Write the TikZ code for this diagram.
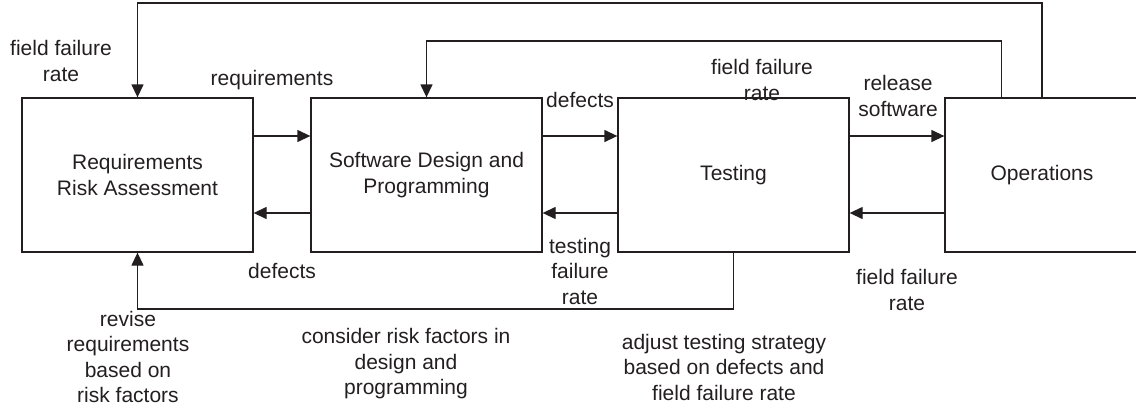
\documentclass[tikz,border=0pt]{standalone}
\usepackage{fontspec}
\setmainfont{Liberation Sans}
\usetikzlibrary{arrows.meta,calc}
\definecolor{ink}{HTML}{231F20}
\begin{document}
\begin{tikzpicture}[x=1pt,y=-1pt,
  box/.style={draw=ink, line width=1.3pt, rectangle, minimum height=154pt, inner sep=0pt, align=center, text=ink, font=\fontsize{21}{26}\selectfont},
  lbl/.style={align=center, text=ink, font=\fontsize{21}{25.5}\selectfont, inner sep=0pt},
  arr/.style={draw=ink, line width=1.3pt, -{Triangle[length=13pt,width=12pt]}},
  plain/.style={draw=ink, line width=1.3pt},
]
\useasboundingbox (0,0) rectangle (1136,410);
\clip (0,0) rectangle (1136,410);

% boxes
\node[box, minimum width=231pt] (req)  at (137.5,175) {Requirements\\Risk Assessment};
\node[box, minimum width=231pt] (des)  at (426.5,175) {Software Design and\\Programming};
\node[box, minimum width=231pt] (test) at (733.5,175) {Testing};
\node[box, minimum width=194pt] (ops)  at (1042,175) {Operations};

% helper rows
\coordinate (r1) at (0,136);
\coordinate (r2) at (0,213);
\coordinate (top1) at (0,3);
\coordinate (top2) at (0,41);
\coordinate (bot) at (0,309);
\coordinate (s2) at ($(ops.north west)+(57,0)$);

% forward arrows
\draw[arr] (req.east |- r1) -- (des.west |- r1);
\draw[arr] (des.east |- r1) -- (test.west |- r1);
\draw[arr] (test.east |- r1) -- (ops.west |- r1);

% backward arrows
\draw[arr] (des.west |- r2) -- (req.east |- r2);
\draw[arr] (test.west |- r2) -- (des.east |- r2);
\draw[arr] (ops.west |- r2) -- (test.east |- r2);

% feedback loops
\draw[arr] (ops.north) -- (ops.north |- top1) -| (req.north);
\draw[arr] (s2) -- (s2 |- top2) -| (des.north);
\draw[arr] (test.south) -- (test.south |- bot) -| (req.south);

% labels
\node[lbl] (l1) at (61,61) {field failure\\rate};
\node[lbl] (l2) at (272,80) {requirements};
\node[lbl] (l3) at (580,100) {defects};
\node[lbl] (l4) at (762,80) {field failure\\rate};
\node[lbl] (l5) at (898,96) {release\\software};
\node[lbl] (l6) at (282,271) {defects};
\node[lbl] (l7) at (580,271) {testing\\failure\\rate};
\node[lbl] (l8) at (907,290) {field failure\\rate};
\node[lbl] (l9) at (128,357) {revise\\requirements\\based on\\risk factors};
\node[lbl] (l10) at (406,364) {consider risk factors in\\design and\\programming};
\node[lbl] (l11) at (724,367) {adjust testing strategy\\based on defects and\\field failure rate};
\end{tikzpicture}
\end{document}
